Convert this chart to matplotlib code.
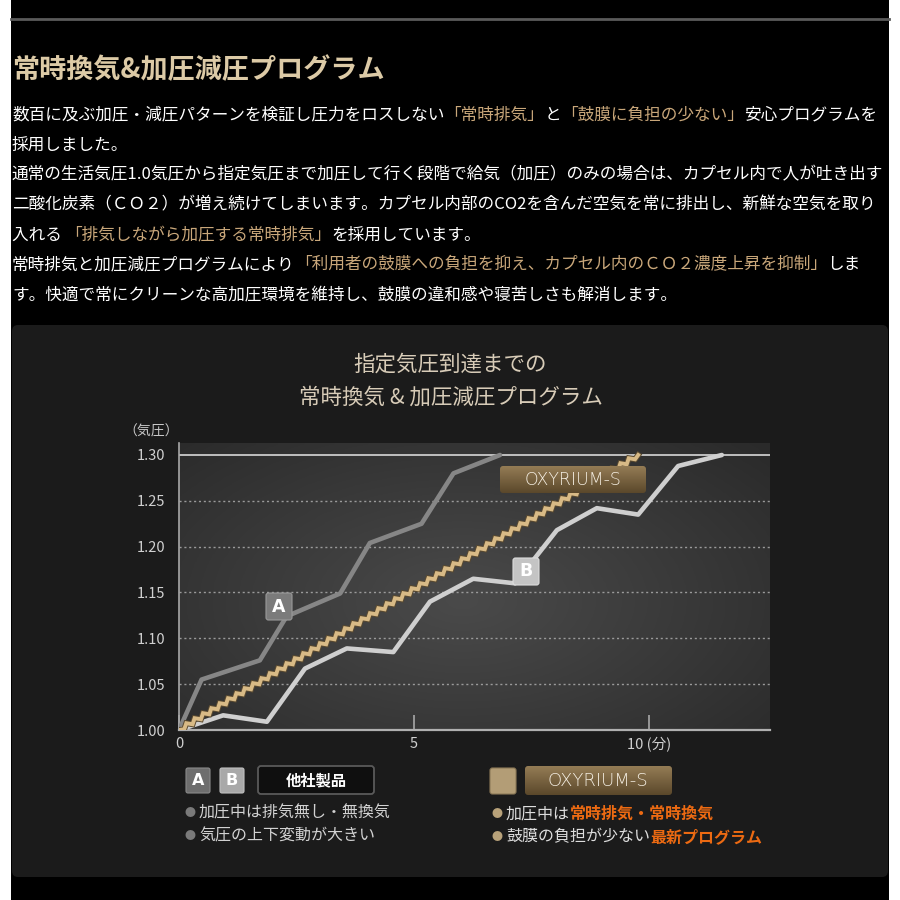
import numpy as np
import matplotlib
matplotlib.use('Agg')
import matplotlib.pyplot as plt
from matplotlib.patches import FancyBboxPatch, Rectangle
from matplotlib.colors import LinearSegmentedColormap
from matplotlib.path import Path
from matplotlib.transforms import Affine2D
import matplotlib.patheffects as pe

plt.rcParams['font.family'] = ['Noto Sans CJK JP', 'DejaVu Sans']

# ---- data ----
A_x = [0, 0.48, 1.72, 2.29, 3.43, 4.06, 5.16, 5.84, 6.83]
A_y = [1.00, 1.055, 1.076, 1.124, 1.149, 1.204, 1.225, 1.280, 1.300]
B_x = [0, 0.94, 1.87, 2.68, 3.57, 4.56, 5.34, 6.26, 7.15, 8.04, 8.89, 9.77, 10.62, 11.55]
B_y = [1.00, 1.016, 1.009, 1.067, 1.089, 1.085, 1.140, 1.165, 1.160, 1.218, 1.242, 1.235, 1.288, 1.300]
oxy_x = [0, 9.77]
oxy_y = [1.00, 1.30]

y_ticks = [1.00, 1.05, 1.10, 1.15, 1.20, 1.25, 1.30]
y_labels = ['1.00', '1.05', '1.10', '1.15', '1.20', '1.25', '1.30']
x_ticks = [0, 5, 10]
x_labels = ['0', '5', '10 (分)']

page_title = '常時換気&加圧減圧プログラム'
chart_title = ['指定気圧到達までの', '常時換気 & 加圧減圧プログラム']
TAN = '#c9a77a'
WHITE = '#ffffff'
para_lines = [
    [('数百に及ぶ加圧・減圧パターンを検証し圧力をロスしない', WHITE), ('「常時排気」', TAN), ('と', WHITE),
     ('「鼓膜に負担の少ない」', TAN), ('安心プログラムを', WHITE)],
    [('採用しました。', WHITE)],
    [('通常の生活気圧1.0気圧から指定気圧まで加圧して行く段階で給気（加圧）のみの場合は、カプセル内で人が吐き出す', WHITE)],
    [('二酸化炭素（ＣＯ２）が増え続けてしまいます。カプセル内部のCO2を含んだ空気を常に排出し、新鮮な空気を取り', WHITE)],
    [('入れる ', WHITE), ('「排気しながら加圧する常時排気」', TAN), ('を採用しています。', WHITE)],
    [('常時排気と加圧減圧プログラムにより', WHITE), ('「利用者の鼓膜への負担を抑え、カプセル内のＣＯ２濃度上昇を抑制」', TAN),
     ('しま', WHITE)],
    [('す。快適で常にクリーンな高加圧環境を維持し、鼓膜の違和感や寝苦しさも解消します。', WHITE)],
]
para_y = [115, 145, 175, 205, 235, 265, 295]

legend_left = ['加圧中は排気無し・無換気', '気圧の上下変動が大きい']
ORANGE = '#ec6a12'
legend_right = [[('加圧中は', '#dddddd', 'normal'), ('常時排気・常時換気', ORANGE, 'bold')],
                [('鼓膜の負担が少ない', '#dddddd', 'normal'), ('最新プログラム', ORANGE, 'bold')]]


class ZigZag(pe.AbstractPathEffect):
    """draws the line as a small zigzag (style only)"""
    def __init__(self, period=6.5, amp=1.2, **kw):
        super().__init__()
        self._period = period
        self._amp = amp
        self._gc = kw

    def draw_path(self, renderer, gc, tpath, affine, rgbFace=None):
        v = affine.transform(tpath.vertices)
        half = renderer.points_to_pixels(self._period) / 2
        amp = renderer.points_to_pixels(self._amp)
        pts = []
        for (x0, y0), (x1, y1) in zip(v[:-1], v[1:]):
            d = np.hypot(x1 - x0, y1 - y0)
            n = max(int(d / half), 1)
            ux, uy = (x1 - x0) / d, (y1 - y0) / d
            nx, ny = -uy, ux
            for k in range(n + 1):
                s = k * d / n
                sg = (-1) ** k if 0 < k < n else 0
                pts.append((x0 + ux * s + nx * amp * sg, y0 + uy * s + ny * amp * sg))
        gc0 = renderer.new_gc()
        gc0.copy_properties(gc)
        self._update_gc(gc0, self._gc)
        renderer.draw_path(gc0, Path(np.array(pts)), Affine2D(), None)
        gc0.restore()


fig = plt.figure(figsize=(9, 9), dpi=100, facecolor='white')
renderer = fig.canvas.get_renderer()

# background layer in pixel coordinates
bg = fig.add_axes([0, 0, 1, 1], zorder=0)
bg.set_xlim(0, 900)
bg.set_ylim(900, 0)
bg.axis('off')
fg = fig.add_axes([0, 0, 1, 1], zorder=3)
fg.set_xlim(0, 900)
fg.set_ylim(900, 0)
fg.axis('off')
fg.patch.set_alpha(0)

bg.add_patch(Rectangle((11, 0), 878, 900, fc='black', ec='none'))
bg.plot([11, 889], [19, 19], color='#5a5a5a', lw=2)
bg.add_patch(FancyBboxPatch((12, 325), 876, 552, boxstyle='round,pad=0,rounding_size=6',
                            fc='#1b1b1b', ec='none'))


def put_line(ax, x, y, parts, size, weight='normal'):
    for p in parts:
        txt, col = p[0], p[1]
        wt = p[2] if len(p) > 2 else weight
        t = ax.text(x, y, txt, color=col, fontsize=size, fontweight=wt, ha='left', va='center')
        x += t.get_window_extent(renderer=renderer).width
    return x


def grad_box(ax, x0, y0, x1, y1, c_top, c_bot, r=3, ec='none'):
    patch = FancyBboxPatch((x0, y0), x1 - x0, y1 - y0, boxstyle=f'round,pad=0,rounding_size={r}',
                           fc='none', ec=ec, lw=1)
    ax.add_patch(patch)
    cm = LinearSegmentedColormap.from_list('g', [c_top, c_bot])
    im = ax.imshow(np.linspace(0, 1, 64)[:, None], extent=(x0, x1, y1, y0), origin='upper',
                   cmap=cm, aspect='auto', interpolation='bilinear')
    im.set_clip_path(patch)


# page text
bg.text(12, 70, page_title, color='#dccaa6', fontsize=19.5, fontweight='bold', ha='left', va='center')
for parts, yy in zip(para_lines, para_y):
    put_line(bg, 12, yy, parts, 12.0)

# chart title
bg.text(450, 365, chart_title[0], color='#d8ccb8', fontsize=15.5, ha='center', va='center')
bg.text(451, 398, chart_title[1], color='#d8ccb8', fontsize=15.5, ha='center', va='center')
bg.text(151, 432, '（気圧）', color='#c8c8c8', fontsize=10, ha='center', va='center')

# ---- chart ----
xmax = (770 - 179) / 47.0
ytop = 1.30 + 12 / 916.7
ax = fig.add_axes([179 / 900, 170 / 900, 591 / 900, 287 / 900], zorder=1)
ax.patch.set_alpha(0)

gx, gy = np.meshgrid(np.linspace(0, 1, 240), np.linspace(0, 1, 120))
R = np.clip(np.sqrt(((gx - 0.48) / 0.8) ** 2 + ((gy - 0.45) / 0.9) ** 2), 0, 1)
ax.imshow(R, extent=(0, xmax, 1.0, ytop), origin='lower', aspect='auto', zorder=0,
          cmap=LinearSegmentedColormap.from_list('bgg', ['#4a4a4a', '#2a2a2a']), interpolation='bilinear')

for yv in y_ticks[1:-1]:
    ax.axhline(yv, color='#9a9a9a', lw=1, ls=(0, (1.5, 2)), zorder=1)
ax.axhline(1.30, color='#d8d8d8', lw=1.2, zorder=1)

ax.plot(A_x, A_y, color='#868686', lw=3.3, solid_joinstyle='round', solid_capstyle='round', zorder=3)
ax.plot(B_x, B_y, color='#cfcfcf', lw=3.3, solid_joinstyle='round', solid_capstyle='round', zorder=3)
ax.plot(oxy_x, oxy_y, color='#cfb07c', lw=2.4, zorder=4,
        path_effects=[ZigZag(period=7.0, amp=1.5, linewidth=4.2, foreground='#5a4a30', joinstyle='miter'),
                      ZigZag(period=7.0, amp=1.5, linewidth=2.8, foreground='#d8ba86', joinstyle='miter')])

ax.set_xlim(0, xmax)
ax.set_ylim(1.0, ytop)
ax.set_xticks(x_ticks)
ax.set_xticklabels(x_labels)
ax.set_yticks(y_ticks)
ax.set_yticklabels(y_labels)
ax.tick_params(axis='x', direction='in', length=11, width=1.2, color='#a8a8a8', pad=5,
               labelcolor='#d0d0d0', labelsize=10.5)
ax.tick_params(axis='y', length=0, pad=10, labelcolor='#d0d0d0', labelsize=10.5)
for s in ['top', 'right']:
    ax.spines[s].set_visible(False)
ax.spines['left'].set_color('#a8a8a8')
ax.spines['left'].set_linewidth(1.2)
ax.spines['bottom'].set_color('#b0b0b0')
ax.spines['bottom'].set_linewidth(1.6)

# labels inside the chart
fg.add_patch(FancyBboxPatch((266, 593), 26, 27, boxstyle='round,pad=0,rounding_size=2.5',
                            fc='#7b7b7b', ec='#9a9a9a', lw=0.8))
fg.text(279, 606.5, 'A', color='white', fontsize=12.5, fontweight='bold', ha='center', va='center',
        family='DejaVu Sans')
fg.add_patch(FancyBboxPatch((513, 558), 26, 27, boxstyle='round,pad=0,rounding_size=2.5',
                            fc='#c4c4c4', ec='#dddddd', lw=0.8))
fg.text(526, 571.5, 'B', color='white', fontsize=12.5, fontweight='bold', ha='center', va='center',
        family='DejaVu Sans')
grad_box(fg, 500, 466, 646, 493, '#947c55', '#5b482b', r=3)
fg.text(573, 480, 'OXYRIUM-S', color='#f4eee2', fontsize=12.5, ha='center', va='center',
        family='DejaVu Sans', fontweight='light')

# ---- legend ----
fg.add_patch(FancyBboxPatch((186, 768), 24, 25, boxstyle='round,pad=0,rounding_size=2',
                            fc='#6e6e6e', ec='#8a8a8a', lw=0.8))
fg.text(198, 780.5, 'A', color='white', fontsize=11.5, fontweight='bold', ha='center', va='center',
        family='DejaVu Sans')
fg.add_patch(FancyBboxPatch((220, 768), 24, 25, boxstyle='round,pad=0,rounding_size=2',
                            fc='#a9a9a9', ec='#c0c0c0', lw=0.8))
fg.text(232, 780.5, 'B', color='white', fontsize=11.5, fontweight='bold', ha='center', va='center',
        family='DejaVu Sans')
fg.add_patch(FancyBboxPatch((258, 766), 116, 28, boxstyle='round,pad=0,rounding_size=3',
                            fc='#0f0f0f', ec='#5a5a5a', lw=1.3))
fg.text(316, 780, '他社製品', color='white', fontsize=11, fontweight='bold', ha='center', va='center')

for txt, yy in zip(legend_left, [813, 836]):
    fg.text(190, yy, '●', color='#7a7a7a', fontsize=8, ha='center', va='center')
    fg.text(199, yy, txt, color='#d2d2d2', fontsize=11.5, ha='left', va='center')

fg.add_patch(FancyBboxPatch((490, 768), 26, 26, boxstyle='round,pad=0,rounding_size=2.5',
                            fc='#b39d76', ec='#8d7a58', lw=0.8))
grad_box(fg, 525, 766, 672, 795, '#947c55', '#5b482b', r=3)
fg.text(598, 780.5, 'OXYRIUM-S', color='#f4eee2', fontsize=13, ha='center', va='center',
        family='DejaVu Sans', fontweight='light')
for parts, yy in zip(legend_right, [814, 837]):
    fg.text(497, yy, '●', color='#b8a27a', fontsize=8, ha='center', va='center')
    put_line(fg, 506, yy, parts, 11.5)

fig.savefig('out.png', dpi=100, facecolor=fig.get_facecolor())
